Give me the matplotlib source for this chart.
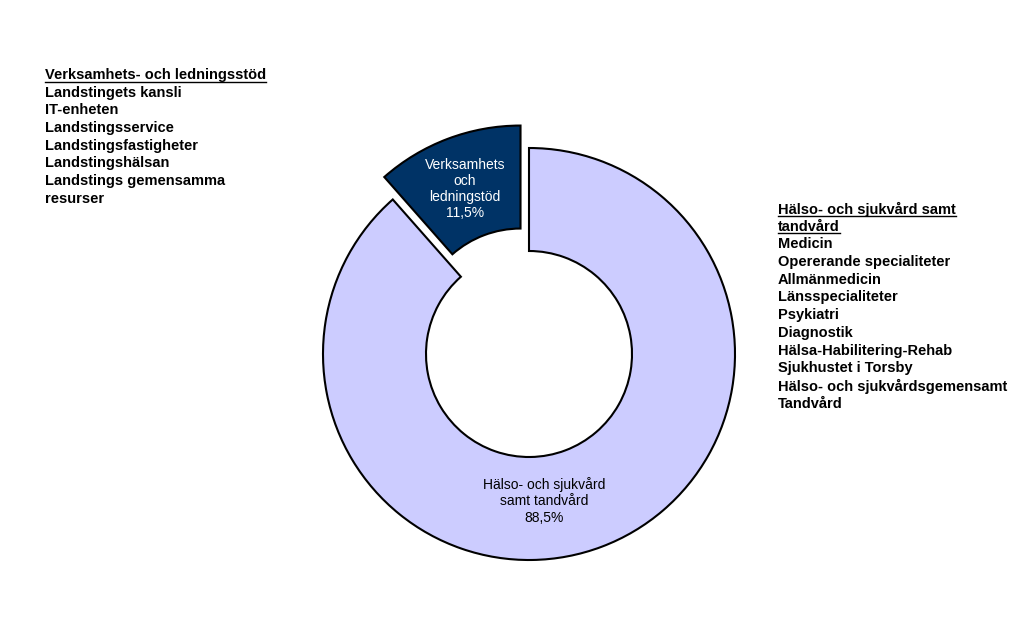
import numpy as np
import matplotlib.pyplot as plt

plt.rcParams['font.family'] = ['Liberation Sans', 'DejaVu Sans']

# data
andelar = [88.5, 11.5]
slice_labels = ['Hälso- och sjukvård\nsamt tandvård\n88,5%',
                'Verksamhets\noch\nledningstöd\n11,5%']
farger = ['#CCCCFF', '#003366']
textfarger = ['black', 'white']

vanster_rubrik = ['Verksamhets- och ledningsstöd']
vanster_rader = ['Landstingets kansli', 'IT-enheten', 'Landstingsservice',
                 'Landstingsfastigheter', 'Landstingshälsan',
                 'Landstings gemensamma', 'resurser']
hoger_rubrik = ['Hälso- och sjukvård samt', 'tandvård']
hoger_rader = ['Medicin', 'Opererande specialiteter', 'Allmänmedicin',
               'Länsspecialiteter', 'Psykiatri', 'Diagnostik',
               'Hälsa-Habilitering-Rehab', 'Sjukhustet i Torsby',
               'Hälso- och sjukvårdsgemensamt', 'Tandvård']

W, H = 1024, 625
fig = plt.figure(figsize=(W / 100, H / 100), dpi=100)
ax = fig.add_axes([0, 0, 1, 1])

cx, cy, R = 529, H - 354, 206
# explode i pixlar (pie skalar inte explode med radien)
wedges, _ = ax.pie(andelar, colors=farger, startangle=90, counterclock=False,
                   explode=[0, 24], center=(cx, cy), radius=R,
                   wedgeprops=dict(width=R * 0.5, edgecolor='black', linewidth=1.5))
ax.set_xlim(0, W)
ax.set_ylim(0, H)
ax.set_aspect('auto')
ax.axis('off')

# etiketter i sektorerna
lab_pos = [(544, H - 501), (465, H - 189)]
for (x, y), t, c in zip(lab_pos, slice_labels, textfarger):
    ax.text(x, y, t, ha='center', va='center', fontsize=10, color=c,
            linespacing=1.2)

# textblock
def block(x, ytop, rubrik, rader, dy=17.7):
    fig.canvas.draw()
    r = fig.canvas.get_renderer()
    y = ytop
    for s in rubrik:
        t = ax.text(x, H - y, s, fontsize=10.5, fontweight='bold',
                    ha='left', va='center')
        bb = t.get_window_extent(renderer=r)
        ax.plot([bb.x0, bb.x1], [H - y - 6.5, H - y - 6.5], color='black', lw=1)
        y += dy
    for s in rader:
        ax.text(x, H - y, s, fontsize=10.5, fontweight='bold',
                ha='left', va='center')
        y += dy

block(45, 75, vanster_rubrik, vanster_rader)
block(778, 209, hoger_rubrik, hoger_rader)

fig.savefig('out.png', dpi=100)
